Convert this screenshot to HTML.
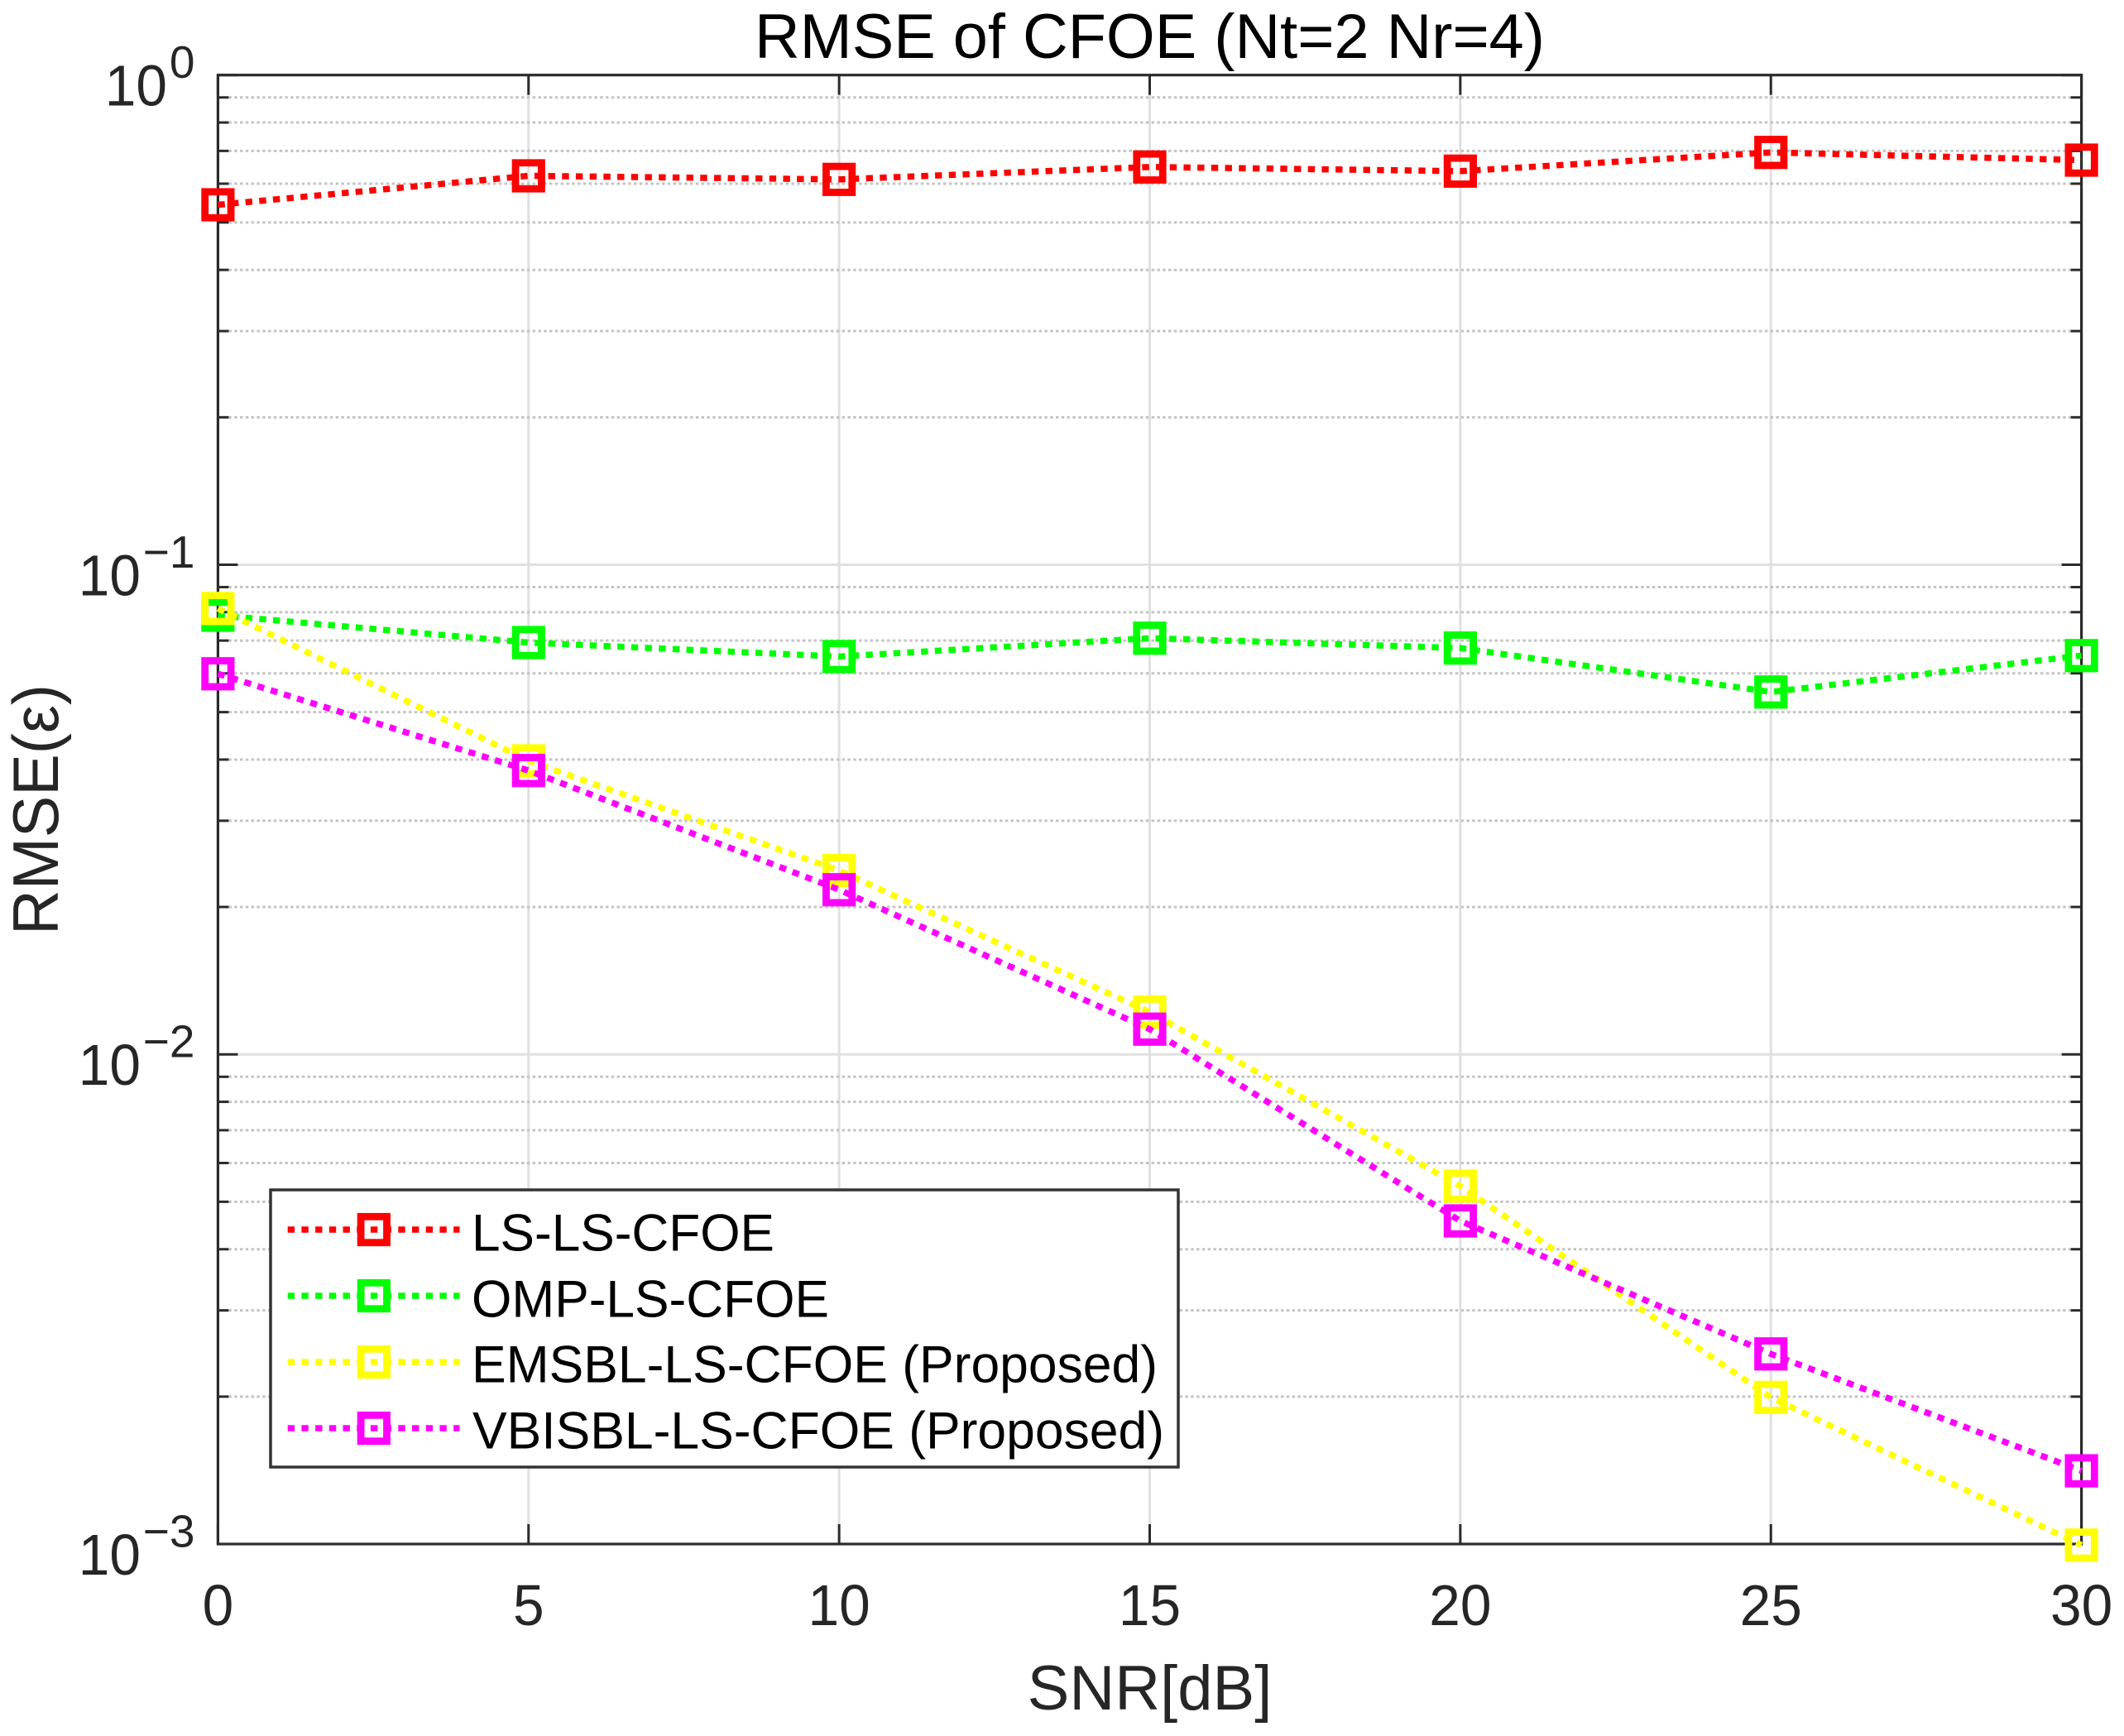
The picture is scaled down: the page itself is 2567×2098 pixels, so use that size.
<!DOCTYPE html>
<html>
<head>
<meta charset="utf-8">
<title>RMSE of CFOE (Nt=2 Nr=4)</title>
<style>
html,body{margin:0;padding:0;background:#fff;width:2567px;height:2098px;overflow:hidden}
svg{display:block}
text{font-family:"Liberation Sans",sans-serif}
</style>
</head>
<body>
<svg id="chart" xmlns="http://www.w3.org/2000/svg" width="2567" height="2098" viewBox="0 0 2567 2098">
  <rect x="0" y="0" width="2567" height="2098" fill="#fff"/>
  <g id="grid"></g>
  <g id="axes"></g>
  <g id="series"></g>
  <text x="912" y="70" font-size="76" fill="#000" textLength="955" lengthAdjust="spacingAndGlyphs">RMSE of CFOE (Nt=2 Nr=4)</text>
  <text x="1389.5" y="2066" font-size="76" fill="#262626" text-anchor="middle">SNR[dB]</text>
  <text x="0" y="0" font-size="78" fill="#262626" transform="translate(70 1130) rotate(-90)" textLength="303" lengthAdjust="spacingAndGlyphs">RMSE(ε)</text>
  <g id="legend">
    <rect x="327" y="1438" width="1097" height="335" fill="#fff" stroke="#333" stroke-width="3.5"/>
    <text x="570" y="1511.5" font-size="63" fill="#000" textLength="366" lengthAdjust="spacingAndGlyphs">LS-LS-CFOE</text>
    <text x="570" y="1591.5" font-size="63" fill="#000" textLength="432" lengthAdjust="spacingAndGlyphs">OMP-LS-CFOE</text>
    <text x="570" y="1670.5" font-size="63" fill="#000" textLength="829" lengthAdjust="spacingAndGlyphs">EMSBL-LS-CFOE (Proposed)</text>
    <text x="571" y="1750.5" font-size="63" fill="#000" textLength="836" lengthAdjust="spacingAndGlyphs">VBISBL-LS-CFOE (Proposed)</text>
  </g>
</svg>
<script>
// ---- chart data ----
var snrValues = [0, 5, 10, 15, 20, 25, 30];
var lsValues = [0.5433, 0.6226, 0.6122, 0.6490, 0.6365, 0.6950, 0.6703];
var ompValues = [0.07885, 0.06935, 0.06493, 0.07079, 0.06758, 0.05496, 0.06523];
var emsblValues = [0.08140, 0.03976, 0.02373, 0.01220, 0.005382, 0.001993, 0.000995];
var vbisblValues = [0.05988, 0.03799, 0.02169, 0.01126, 0.004570, 0.002445, 0.001411];
var xTickLabels = ["0", "5", "10", "15", "20", "25", "30"];
var xTickValues = [0, 5, 10, 15, 20, 25, 30];
var yDecadeExponents = [0, -1, -2, -3];
var seriesNames = ["ls", "omp", "emsbl", "vbisbl"];
var seriesColors = ["#ff0000", "#00ff00", "#ffff00", "#ff00ff"];

// ---- axis functions ----
var LEFT = 263.4, RIGHT = 2515.6, TOP = 90.7, BOTTOM = 1866;
function xScale(v) { return LEFT + (v - 0) / (30 - 0) * (RIGHT - LEFT); }
function yScale(v) { return TOP + (0 - Math.log10(v)) / 3 * (BOTTOM - TOP); }

var NS = "http://www.w3.org/2000/svg";
function mk(parent, tag, attrs) {
  var el = document.createElementNS(NS, tag);
  for (var k in attrs) { el.setAttribute(k, attrs[k]); }
  parent.appendChild(el);
  return el;
}

var gridG = document.getElementById("grid");
var axesG = document.getElementById("axes");
var seriesG = document.getElementById("series");
var legendG = document.getElementById("legend");
var AXIS = "#2b2b2b";

// vertical major grid
xTickValues.forEach(function (t) {
  if (t === 0 || t === 30) { return; }
  var line = mk(gridG, "line", { x1: xScale(t), x2: xScale(t), y1: TOP, y2: BOTTOM, stroke: "#e0e0e0", "stroke-width": 3 });
  
  
});

// horizontal minor and major grid
yDecadeExponents.forEach(function (e) {
  if (e === 0) { return; }
  var y = yScale(Math.pow(10, e));
  if (e !== -3) {
    var major = mk(gridG, "line", { x1: LEFT, x2: RIGHT, y1: y, y2: y, stroke: "#e0e0e0", "stroke-width": 3 });
    
    
  }
  for (var m = 2; m <= 9; m++) {
    var ym = yScale(m * Math.pow(10, e));
    var minor = mk(gridG, "line", { x1: LEFT + 13, x2: RIGHT - 13, y1: ym, y2: ym, stroke: "#c4c4c4", "stroke-width": 3, "stroke-dasharray": "3.5 3.3" });
    
    
  }
});

// axes box
var box = mk(axesG, "rect", { x: LEFT, y: TOP, width: RIGHT - LEFT, height: BOTTOM - TOP, fill: "none", stroke: AXIS, "stroke-width": 3.2 });



// x ticks and labels
xTickValues.forEach(function (t, i) {
  var x = xScale(t);
  var tickB = mk(axesG, "line", { x1: x, x2: x, y1: BOTTOM, y2: BOTTOM - 24, stroke: AXIS, "stroke-width": 3 });
  
  
  var tickT = mk(axesG, "line", { x1: x, x2: x, y1: TOP, y2: TOP + 24, stroke: AXIS, "stroke-width": 3 });
  
  
  var label = mk(axesG, "text", { x: x, y: 1964, "font-size": 70, fill: "#262626", "text-anchor": "middle", textLength: 37.6 * xTickLabels[i].length, lengthAdjust: "spacingAndGlyphs" });
  
  
  label.textContent = xTickLabels[i];
});

// y ticks and labels
yDecadeExponents.forEach(function (e) {
  var y = yScale(Math.pow(10, e));
  var tickL = mk(axesG, "line", { x1: LEFT, x2: LEFT + 24, y1: y, y2: y, stroke: AXIS, "stroke-width": 3 });
  
  
  var tickR = mk(axesG, "line", { x1: RIGHT, x2: RIGHT - 24, y1: y, y2: y, stroke: AXIS, "stroke-width": 3 });
  
  
  for (var m = 2; m <= 9; m++) {
    var ym = yScale(m * Math.pow(10, e));
    if (ym > BOTTOM) { continue; }
    var mL = mk(axesG, "line", { x1: LEFT, x2: LEFT + 13, y1: ym, y2: ym, stroke: AXIS, "stroke-width": 3 });
    
    
    var mR = mk(axesG, "line", { x1: RIGHT, x2: RIGHT - 13, y1: ym, y2: ym, stroke: AXIS, "stroke-width": 3 });
    
    
  }
  var supText = e === 0 ? "0" : "\u2212" + Math.abs(e);
  var base = mk(axesG, "text", { x: e === 0 ? 202 : 170, y: y + 37, "font-size": 70, fill: "#262626", "text-anchor": "end", textLength: 75.2, lengthAdjust: "spacingAndGlyphs" });
  
  
  base.textContent = "10";
  var sup = mk(axesG, "text", { x: 235.5, y: y + 3.5, "font-size": 55, fill: "#262626", "text-anchor": "end" });
  
  
  sup.textContent = supText;
});

// data series
var allSeries = [lsValues, ompValues, emsblValues, vbisblValues];
allSeries.forEach(function (vals, s) {
  var color = seriesColors[s];
  var pts = vals.map(function (v, i) { return xScale(snrValues[i]) + "," + yScale(v); }).join(" ");
  var line = mk(seriesG, "polyline", { points: pts, fill: "none", stroke: color, "stroke-width": 7.5, "stroke-dasharray": "8.4 8.3", "stroke-linejoin": "miter" });
  
  
  vals.forEach(function (v, i) {
    var cx = xScale(snrValues[i]), cy = yScale(v);
    var marker = mk(seriesG, "rect", { x: cx - 15.7, y: cy - 15.7, width: 31.4, height: 31.4, fill: "none", stroke: color, "stroke-width": 8.8 });
    
    
  });
});

// legend samples
var legendRows = [1486, 1566, 1646, 1726];
seriesColors.forEach(function (color, s) {
  var y = legendRows[s];
  var sample = mk(legendG, "line", { x1: 347.7, x2: 555.5, y1: y, y2: y, stroke: color, "stroke-width": 7.5, "stroke-dasharray": "8.4 8.3" });
  
  
  var mark = mk(legendG, "rect", { x: 451.8 - 15.7, y: y - 15.7, width: 31.4, height: 31.4, fill: "none", stroke: color, "stroke-width": 8.8 });
  
  
});
</script>
</body>
</html>
